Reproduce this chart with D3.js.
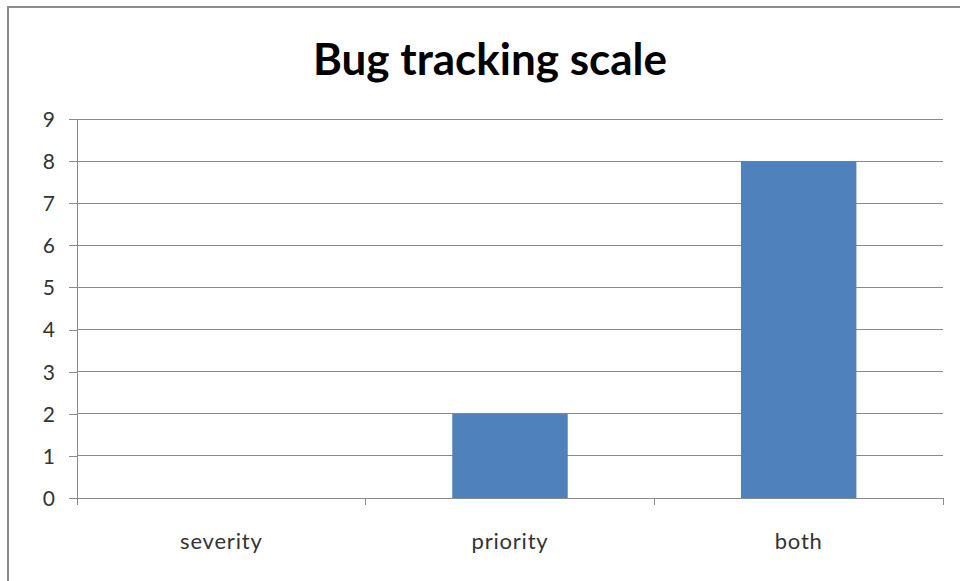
<!DOCTYPE html>
<html lang="en">
<head>
  <meta charset="UTF-8">
  <title>Bug tracking scale</title>
  <script src="https://d3js.org/d3.v7.min.js"></script>
  <style>
    body { margin: 0; background: #fff; }
    text { font-family: Lato, "Open Sans", sans-serif; }
  </style>
</head>
<body>
<div id="chart"></div>
<script>
// data
var categories = ["severity", "priority", "both"];
var counts = [0, 2, 8];
var yTicks = [0, 1, 2, 3, 4, 5, 6, 7, 8, 9];

var W = 960, H = 581;
var margin = {top: 119, right: 17, bottom: 83, left: 77},
    width = W - margin.left - margin.right,
    height = H - margin.top - margin.bottom;

var svg = d3.select("#chart").append("svg")
  .attr("width", W)
  .attr("height", H);

// outer chart frame
svg.append("rect")
  .attr("x", 8).attr("y", 7)
  .attr("width", 1000).attr("height", 1000)
  .attr("fill", "#fff")
  .attr("stroke", "#8c8c8c")
  .attr("stroke-width", 2);

svg.append("text")
  .attr("x", 490).attr("y", 75)
  .attr("text-anchor", "middle")
  .attr("font-size", 44)
  .attr("font-weight", "bold")
  .attr("fill", "#000")
  .text("Bug tracking scale");

var g = svg.append("g")
  .attr("transform", "translate(" + margin.left + "," + margin.top + ")");

var x = d3.scaleBand().domain(categories).range([0, width]).padding(0);
// Excel style 150% gap width
var xBar = d3.scaleBand().domain(categories).range([0, width])
  .paddingInner(0.6).paddingOuter(0.3);
var y = d3.scaleLinear().domain([0, 9]).range([height, 0]);

// gridlines
g.selectAll(".grid")
  .data(yTicks.filter(function(d) { return d > 0; }))
  .enter().append("line")
  .attr("x1", 0).attr("x2", width)
  .attr("y1", function(d) { return y(d); })
  .attr("y2", function(d) { return y(d); })
  .attr("stroke", "#8a8a8a")
  .attr("shape-rendering", "crispEdges");

// bars
g.selectAll(".bar")
  .data(counts)
  .enter().append("rect")
  .attr("x", function(d, i) { return xBar(categories[i]); })
  .attr("width", xBar.bandwidth())
  .attr("y", function(d) { return y(d); })
  .attr("height", function(d) { return height - y(d); })
  .attr("fill", "#4f81bd");

// y axis
var yAxis = g.append("g")
  .call(d3.axisLeft(y).tickValues(yTicks).tickSize(8).tickPadding(14).tickSizeOuter(0));

// x axis with ticks on category boundaries
var xAxis = g.append("g")
  .attr("transform", "translate(0," + height + ")")
  .call(d3.axisBottom(x).tickSize(0).tickPadding(51).tickSizeOuter(0));

xAxis.selectAll(".bound")
  .data([0].concat(categories.map(function(c) { return x(c) + x.bandwidth(); })))
  .enter().append("line")
  .attr("x1", function(d) { return d; }).attr("x2", function(d) { return d; })
  .attr("y1", 0).attr("y2", 7)
  .attr("stroke", "#8a8a8a")
  .attr("shape-rendering", "crispEdges");

[yAxis, xAxis].forEach(function(a) {
  a.selectAll(".domain").attr("stroke", "#8a8a8a").attr("shape-rendering", "crispEdges");
  a.selectAll(".tick line").attr("stroke", "#8a8a8a").attr("shape-rendering", "crispEdges");
  a.selectAll(".tick text")
    .attr("font-family", "Lato, 'Open Sans', sans-serif")
    .attr("font-size", 21)
    .attr("fill", "#333");
});
yAxis.selectAll(".tick text").attr("dy", "0.35em");
xAxis.selectAll(".tick text").attr("dy", "0")
  .attr("font-size", 22)
  .attr("letter-spacing", "0.8px");
</script>
</body>
</html>
